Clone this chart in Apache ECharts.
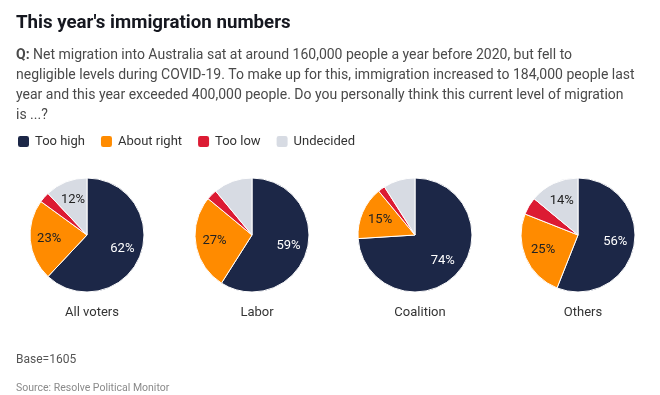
<!DOCTYPE html>
<html><head><meta charset="utf-8">
<script src="https://cdn.jsdelivr.net/npm/echarts@6/dist/echarts.min.js"></script>
<style>html,body{margin:0;padding:0;background:#fff}#c{width:660px;height:395px}</style>
</head><body><div id="c"></div>
<script>
const groups = ['All voters', 'Labor', 'Coalition', 'Others'];
const answers = ['Too high', 'About right', 'Too low', 'Undecided'];
const tooHigh = [62, 59, 74, 56];
const aboutRight = [23, 27, 15, 25];
const tooLow = [3, 3, 2, 5];
const undecided = [12, 11, 9, 14];
const base = 1605;

const valuesByAnswer = [tooHigh, aboutRight, tooLow, undecided];
const colors = ['#1c2747', '#ff8b00', '#dc1b33', '#d7dbe3'];
const labelColors = ['#ffffff', '#222222', '#222222', '#222222'];
const centersX = [87, 252, 415, 578];
const centerY = 235;
const FONT = 'Roboto';

const series = [];
groups.forEach((g, i) => {
  series.push({
    type: 'pie', name: g, center: [centersX[i], centerY], radius: [0, 57],
    startAngle: 90, clockwise: true, silent: true, animation: false,
    label: { show: false }, labelLine: { show: false },
    itemStyle: { borderColor: '#ffffff', borderWidth: 1 },
    data: answers.map((a, j) => ({ name: a, value: valuesByAnswer[j][i], itemStyle: { color: colors[j] } }))
  });
});
groups.forEach((g, i) => {
  series.push({
    type: 'pie', name: g + ' labels', center: [centersX[i], centerY], radius: [0, 70],
    startAngle: 90, clockwise: true, silent: true, animation: false,
    itemStyle: { color: 'rgba(0,0,0,0)', borderWidth: 0 },
    labelLine: { show: false },
    data: answers.map((a, j) => ({
      name: a, value: valuesByAnswer[j][i],
      label: {
        show: valuesByAnswer[j][i] >= 12, position: 'inside',
        formatter: '{c}%', color: labelColors[j],
        fontFamily: FONT, fontSize: 13, textBorderWidth: 0
      }
    }))
  });
});

const titles = [
  { text: "This year's immigration numbers", left: 11, top: 9,
    textStyle: { fontFamily: FONT, fontSize: 18.7, fontWeight: 'bold', color: '#15171f' } },
  { text: '{b|Q:} Net migration into Australia sat at around 160,000 people a year before 2020, but fell to\n' +
          'negligible levels during COVID-19. To make up for this, immigration increased to 184,000 people last\n' +
          'year and this year exceeded 400,000 people. Do you personally think this current level of migration\n' +
          'is ...?',
    left: 11, top: 40,
    textStyle: { fontFamily: FONT, fontSize: 14, fontWeight: 'normal', color: '#4a4a4a', lineHeight: 20,
      rich: { b: { fontFamily: FONT, fontSize: 14, fontWeight: 'bold', color: '#4a4a4a', lineHeight: 20 } } } },
  { text: 'Base=' + base, left: 11, top: 349,
    textStyle: { fontFamily: FONT, fontSize: 12, fontWeight: 'normal', color: '#555555' } },
  { text: 'Source: Resolve Political Monitor', left: 11, top: 378,
    textStyle: { fontFamily: FONT, fontSize: 10.5, fontWeight: 'normal', color: '#8a8a8a' } }
];
groups.forEach((g, i) => {
  titles.push({ text: g, left: centersX[i], top: 301, textAlign: 'center',
    textStyle: { fontFamily: FONT, fontSize: 13, fontWeight: 'normal', color: '#333333' } });
});

const chart = echarts.init(document.getElementById('c'), null, { renderer: 'canvas' });
chart.setOption({
  backgroundColor: '#ffffff',
  animation: false,
  title: titles,
  legend: {
    left: 11, top: 129, icon: 'roundRect', itemWidth: 13, itemHeight: 13, itemGap: 14,
    selectedMode: false,
    data: answers,
    textStyle: { fontFamily: FONT, fontSize: 13, color: '#333333' }
  },
  series: series
});
</script></body></html>
